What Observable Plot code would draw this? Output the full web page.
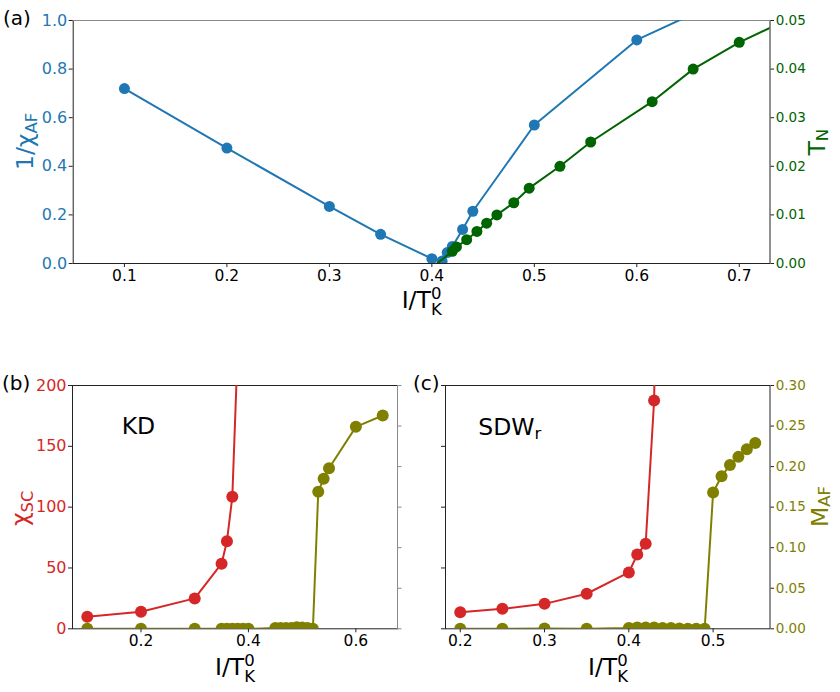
<!DOCTYPE html>
<html><head><meta charset="utf-8">
<script src="https://cdn.jsdelivr.net/npm/d3@7"></script>
<script src="https://cdn.jsdelivr.net/npm/@observablehq/plot@0.6"></script>
<style>
html,body{margin:0;padding:0;background:#fff;}
#wrap{position:relative;width:840px;height:692px;font-family:"DejaVu Sans",sans-serif;}
#wrap svg{position:absolute;left:0;top:0;}
</style></head><body><div id="wrap"></div>
<script>
// ---------- data: panel (a) ----------
const aChiX   = [0.1, 0.2, 0.3, 0.35, 0.4, 0.41, 0.415, 0.42, 0.43, 0.44, 0.5, 0.6, 0.7];
const aInvChi = [0.72, 0.475, 0.235, 0.12, 0.02, 0.01, 0.045, 0.07, 0.14, 0.215, 0.57, 0.92, 1.115];
const aTNX    = [0.405, 0.42, 0.424, 0.434, 0.444, 0.4535, 0.4635, 0.48, 0.495, 0.525, 0.555, 0.615, 0.655, 0.7, 0.75];
const aTN     = [0, 0.0025, 0.0034, 0.0049, 0.0066, 0.0083, 0.010, 0.0125, 0.0155, 0.020, 0.025, 0.0333, 0.040, 0.0455, 0.0505];
const aXTicks  = [0.1, 0.2, 0.3, 0.4, 0.5, 0.6, 0.7];
const aYTicks  = [0, 0.2, 0.4, 0.6, 0.8, 1.0];
const aTNTicks = [0, 0.01, 0.02, 0.03, 0.04, 0.05];

// ---------- data: panel (b) KD ----------
const bScX  = [0.1, 0.2, 0.3, 0.35, 0.36, 0.37, 0.38];
const bChi  = [10, 14, 25, 53.5, 72, 108.5, 230];
const bMX   = [0.1, 0.2, 0.3, 0.35, 0.36, 0.37, 0.38, 0.39, 0.4, 0.45, 0.46, 0.47, 0.48, 0.49, 0.5, 0.51, 0.52, 0.53, 0.54, 0.55, 0.6, 0.65];
const bM    = [0, 0, 0, 0, 0, 0, 0, 0, 0, 0.001, 0.001, 0.001, 0.001, 0.002, 0.0015, 0.001, 0, 0.169, 0.185, 0.198, 0.249, 0.263];
const bXTicks = [0.2, 0.4, 0.6];

// ---------- data: panel (c) SDWr ----------
const cScX  = [0.2, 0.25, 0.3, 0.35, 0.4, 0.41, 0.42, 0.43, 0.44];
const cChi  = [13.7, 16.4, 20.5, 28.8, 46.3, 61, 70, 187.7, 600];
const cMX   = [0.2, 0.25, 0.3, 0.35, 0.4, 0.41, 0.42, 0.43, 0.44, 0.45, 0.46, 0.47, 0.48, 0.49, 0.5, 0.51, 0.52, 0.53, 0.54, 0.55];
const cM    = [0, 0, 0.0005, 0, 0.001, 0.0015, 0.0015, 0.0015, 0.001, 0.001, 0.0005, 0, 0, 0, 0.168, 0.188, 0.202, 0.212, 0.2215, 0.229];
const cXTicks = [0.2, 0.3, 0.4, 0.5];

// shared tick values for bottom panels
const chiTicks = [0, 50, 100, 150, 200];
const mTicks   = [0, 0.05, 0.10, 0.15, 0.20, 0.25, 0.30];

// ---------- styling ----------
const BLUE = "#1f77b4", GREEN = "#006400", RED = "#d62728", OLIVE = "#808000";
const INK = "#222", GREY = "#8a8a8a";
const W = 840, H = 692;
const LW = 2;
const wrap = document.getElementById("wrap");

function layer(box, xDomain, yDomain, marks, bg) {
  const [l, t, r, b] = box;
  const svg = Plot.plot({
    width: W, height: H,
    marginLeft: l, marginTop: t, marginRight: W - r, marginBottom: H - b,
    x: {domain: xDomain, axis: null},
    y: {domain: yDomain, axis: null},
    style: {background: bg ? "white" : "transparent", fontFamily: "DejaVu Sans", overflow: "visible", maxWidth: "none", color: INK},
    marks
  });
  wrap.appendChild(svg);
}
const series = (xs, ys, color, r, extra = {}) => [
  Plot.line(xs, {x: xs, y: ys, stroke: color, strokeWidth: LW, clip: true}),
  Plot.dot(xs, {x: xs, y: ys, r, fill: color, stroke: "none", clip: true, ...extra})
];
const xAxis = (ticks, fmt) => Plot.axisX(ticks, {anchor: "bottom", tickSize: 4, tickPadding: 2.3, fontSize: 15.5, tickFormat: fmt, label: null, stroke: INK, fill: "black"});
const leftAxis = (ticks, fmt, color, show = true) => Plot.axisY(ticks, {anchor: "left", tickSize: 4, tickPadding: 2, fontSize: 16, tickFormat: show ? fmt : () => "", label: null, stroke: INK, fill: color});
const rightAxis = (ticks, fmt, color, tick = INK, show = true) => Plot.axisY(ticks, {anchor: "right", tickSize: 3.5, tickPadding: 2.2, fontSize: 13.5, tickFormat: show ? fmt : () => "", label: null, stroke: tick, fill: color});

const boxA = [72.7, 20, 769.5, 263];
const boxB = [72, 385, 397, 628.3];
const boxC = [445, 385, 769.5, 628.3];
const aXDom = [0.05, 0.73], bXDom = [0.0725, 0.6775], cXDom = [0.1825, 0.5675];
const RA = 5.5, RB = 6;

// panel (a)
layer(boxA, aXDom, [0, 1], [
  Plot.frame({stroke: INK}),
  Plot.frame({anchor: "top", stroke: GREY}),
  xAxis(aXTicks, d3.format(".1f")),
  leftAxis(aYTicks, d3.format(".1f"), BLUE),
  ...series(aChiX, aInvChi, BLUE, RA)
], true);
layer(boxA, aXDom, [0, 0.05], [
  rightAxis(aTNTicks, d3.format(".2f"), GREEN),
  Plot.line(aTNX, {x: aTNX, y: aTN, stroke: GREEN, strokeWidth: LW, clip: true}),
  Plot.dot(aTNX, {x: aTNX, y: aTN, r: RA, fill: GREEN, clip: true, filter: (d, i) => aTN[i] > 0})
]);

// panel (b)
layer(boxB, bXDom, [0, 200], [
  Plot.frame({stroke: INK}),
  Plot.frame({anchor: "right", stroke: GREY}),
  xAxis(bXTicks, d3.format(".1f")),
  leftAxis(chiTicks, d3.format("d"), RED),
  ...series(bScX, bChi, RED, RB)
]);
layer(boxB, bXDom, [0, 0.3], [
  rightAxis(mTicks, d3.format(".2f"), OLIVE, GREY, false),
  ...series(bMX, bM, OLIVE, RB)
]);

// panel (c)
layer(boxC, cXDom, [0, 200], [
  Plot.frame({stroke: INK}),
  xAxis(cXTicks, d3.format(".1f")),
  leftAxis(chiTicks, d3.format("d"), RED, false),
  ...series(cScX, cChi, RED, RB)
]);
layer(boxC, cXDom, [0, 0.3], [
  rightAxis(mTicks, d3.format(".2f"), OLIVE),
  ...series(cMX, cM, OLIVE, RB)
]);

// ---------- text labels ----------
const lab = d3.create("svg").attr("width", W).attr("height", H)
  .style("font-family", "DejaVu Sans").style("overflow", "visible");
const T = (x, y, s, size, color = "black") =>
  lab.append("text").attr("x", x).attr("y", y).attr("font-size", size).attr("fill", color).text(s);
T(3, 24.5, "(a)", 20);
T(2, 390, "(b)", 20);
T(413, 390, "(c)", 20);
T(121.7, 434, "KD", 23.5);
const sdw = T(478.3, 435, "SDW", 23.5);
sdw.append("tspan").attr("font-size", 16.5).attr("dy", 3.5).text("r");

function xLabel(x, y) {
  const t = lab.append("text").attr("x", x).attr("y", y).attr("font-size", 23.5).attr("fill", "black").text("I/T");
  t.append("tspan").attr("font-size", 16.5).attr("dy", -9.3).text("0");
  t.append("tspan").attr("font-size", 16.5).attr("dx", -10.5).attr("dy", 16).text("K");
}
xLabel(401.7, 308.3);
xLabel(215, 675);
xLabel(588, 675);

function yLabel(x, yBottom, main, sub, color, subShift) {
  const t = lab.append("text").attr("transform", `translate(${x},${yBottom}) rotate(-90)`)
    .attr("font-size", 23.5).attr("fill", color).text(main);
  t.append("tspan").attr("font-size", 16.5).attr("dy", subShift).text(sub);
}
yLabel(33, 170, "1/χ", "AF", BLUE, 4);
yLabel(825, 155.5, "T", "N", GREEN, 3.3);
yLabel(28.2, 526, "χ", "SC", RED, 5);
yLabel(827.5, 527, "M", "AF", OLIVE, 2.5);
wrap.appendChild(lab.node());
</script></body></html>
